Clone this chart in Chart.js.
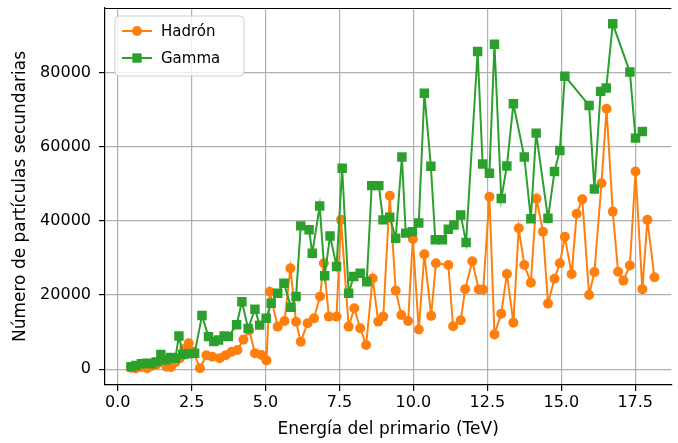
<!DOCTYPE html>
<html>
<head>
<meta charset="utf-8">
<script src="https://cdn.jsdelivr.net/npm/chart.js@4.4.1/dist/chart.umd.min.js"></script>
<style>
  html, body { margin: 0; padding: 0; background: #fff; overflow: hidden; }
</style>
</head>
<body>
<canvas id="chart1" width="678" height="443"></canvas>
<script>

// energia del primario (TeV) y numero de particulas
var hadronE = [0.45, 0.6, 0.8, 1.0, 1.15, 1.3, 1.5, 1.65, 1.8, 1.95,
  2.1, 2.25, 2.4, 2.55, 2.78, 3.0, 3.2, 3.45, 3.65, 3.85,
  4.05, 4.25, 4.45, 4.64, 4.86, 5.03, 5.14, 5.41, 5.64, 5.84,
  6.03, 6.19, 6.42, 6.64, 6.84, 6.97, 7.14, 7.4, 7.55, 7.81,
  8.0, 8.2, 8.4, 8.62, 8.81, 8.98, 9.2, 9.4, 9.59, 9.82,
  9.98, 10.18, 10.37, 10.6, 10.76, 11.18, 11.34, 11.6, 11.75, 11.99,
  12.21, 12.36, 12.57, 12.74, 12.97, 13.16, 13.38, 13.56, 13.75, 13.97,
  14.16, 14.38, 14.55, 14.77, 14.95, 15.12, 15.35, 15.52, 15.71, 15.94,
  16.12, 16.36, 16.53, 16.74, 16.92, 17.1, 17.32, 17.51, 17.74, 17.91, 18.15];
var hadronN = [400, 200, 600, 300, 900, 1200, 2000, 700, 600, 1900,
  3000, 5500, 7000, 4800, 300, 3800, 3400, 3000, 3800, 4750,
  5200, 8000, 10500, 4300, 3860, 2400, 20900, 11500, 13000, 27200,
  12800, 7450, 12400, 13750, 19600, 28600, 14200, 14200, 40270, 11500,
  16450, 11050, 6550, 24500, 12850, 14200, 46800, 21200, 14650, 13000,
  35100, 10700, 31000, 14400, 28600, 28100, 11600, 13200, 21600, 29100,
  21500, 21500, 46500, 9400, 15000, 25700, 12570, 38000, 28100, 23350,
  46000, 37100, 17700, 24400, 28600, 35700, 25700, 41900, 45850, 20040,
  26200, 50160, 70200, 42500, 26300, 23900, 28000, 53300, 21600, 40270, 24800];

var gammaE = [0.45, 0.62, 0.8, 0.98, 1.15, 1.3, 1.46, 1.62, 1.79, 1.95,
  2.07, 2.2, 2.4, 2.6, 2.85, 3.07, 3.25, 3.41, 3.6, 3.74,
  4.02, 4.2, 4.41, 4.64, 4.8, 5.02, 5.19, 5.41, 5.62, 5.86,
  6.03, 6.19, 6.47, 6.58, 6.83, 7.0, 7.18, 7.4, 7.59, 7.81,
  7.98, 8.2, 8.42, 8.59, 8.83, 8.97, 9.2, 9.4, 9.61, 9.74,
  9.96, 10.18, 10.37, 10.59, 10.74, 10.98, 11.18, 11.37, 11.6, 11.78,
  12.17, 12.34, 12.57, 12.74, 12.97, 13.16, 13.38, 13.75, 13.97, 14.15,
  14.55, 14.77, 14.95, 15.12, 15.94, 16.12, 16.33, 16.52, 16.74, 17.32,
  17.51, 17.74];
var gammaN = [700, 1000, 1500, 1600, 1500, 2000, 4000, 2500, 3200, 3000,
  9000, 4000, 4200, 4300, 14500, 8800, 7500, 7900, 9000, 8800,
  12000, 18200, 11000, 16200, 11900, 13750, 17800, 20500, 23200, 16700,
  19600, 38650, 37600, 31300, 44000, 25200, 35950, 27700, 54200, 20500,
  25000, 25900, 23600, 49500, 49500, 40270, 41000, 35300, 57200, 36700,
  37100, 39400, 74400, 54700, 34900, 34900, 37750, 38900, 41600, 34150,
  85650, 55300, 52850, 87600, 46000, 54800, 71550, 57200, 40600, 63650,
  40700, 53300, 58950, 79000, 71100, 48600, 74900, 75800, 93100, 80100,
  62300, 64100];

var xTicks = [0, 2.5, 5, 7.5, 10, 12.5, 15, 17.5];
var yTicks = [0, 20000, 40000, 60000, 80000];

var naranja = '#ff7f0e';
var verde = '#2ca02c';
var fuente = 'DejaVu Sans';


function puntos(xs, ys) {
  var arr = new Array;
  for (let i = 0; i < xs.length; i++) {
    arr.push({x: xs[i], y: ys[i]});
  }
  return arr;
}


// leyenda al estilo matplotlib, dentro del area del grafico
const leyenda = {
  id: 'leyenda',
  afterDraw(chart) {
    const ctx = chart.ctx;
    const a = chart.chartArea;

    // borde superior
    ctx.save();
    ctx.strokeStyle = '#000';
    ctx.lineWidth = 1.2;
    ctx.beginPath();
    ctx.moveTo(a.left, a.top + 0.5);
    ctx.lineTo(a.right, a.top + 0.5);
    ctx.stroke();

    const bx = 115, by = 16, bw = 129, bh = 60, r = 4;
    ctx.fillStyle = 'rgba(255,255,255,0.8)';
    ctx.strokeStyle = '#d0d0d0';
    ctx.lineWidth = 1;
    ctx.beginPath();
    ctx.moveTo(bx + r, by);
    ctx.arcTo(bx + bw, by, bx + bw, by + bh, r);
    ctx.arcTo(bx + bw, by + bh, bx, by + bh, r);
    ctx.arcTo(bx, by + bh, bx, by, r);
    ctx.arcTo(bx, by, bx + bw, by, r);
    ctx.closePath();
    ctx.fill();
    ctx.stroke();

    chart.data.datasets.forEach(function(ds, i) {
      const y = 31 + i * 27;
      ctx.strokeStyle = ds.borderColor;
      ctx.fillStyle = ds.borderColor;
      ctx.lineWidth = 2;
      ctx.beginPath();
      ctx.moveTo(122, y);
      ctx.lineTo(152, y);
      ctx.stroke();
      ctx.beginPath();
      if (ds.pointStyle == 'rect') {
        ctx.rect(137 - 4.7, y - 4.7, 9.4, 9.4);
      } else {
        ctx.arc(137, y, 5, 0, Math.PI * 2);
      }
      ctx.fill();

      ctx.fillStyle = '#000';
      ctx.font = '15px "' + fuente + '"';
      ctx.textBaseline = 'middle';
      ctx.textAlign = 'left';
      ctx.fillText(ds.label, 161, y + 1);
    });
    ctx.restore();
  }
};


const ctx1 = document.getElementById('chart1').getContext('2d');
const chart1 = new Chart(ctx1, {
  type: 'scatter',
  data: {
    datasets: [
      {
        label: 'Hadrón',
        data: puntos(hadronE, hadronN),
        showLine: true,
        borderColor: naranja,
        backgroundColor: naranja,
        borderWidth: 2,
        pointStyle: 'circle',
        pointRadius: 5,
        pointBorderWidth: 0,
        pointHoverRadius: 5,
        order: 1
      },
      {
        label: 'Gamma',
        data: puntos(gammaE, gammaN),
        showLine: true,
        borderColor: verde,
        backgroundColor: verde,
        borderWidth: 2,
        pointStyle: 'rect',
        pointRadius: 6.7,
        pointBorderWidth: 0,
        pointHoverRadius: 6.7,
        order: 0
      }
    ]
  },
  options: {
    responsive: false,
    animation: false,
    devicePixelRatio: 1,
    layout: {
      padding: {top: 8, right: 0, bottom: 0, left: 0}
    },
    plugins: {
      legend: {display: false},
      tooltip: {enabled: false}
    },
    scales: {
      x: {
        type: 'linear',
        min: -0.43,
        max: 18.72,
        afterBuildTicks: function(s) {
          s.ticks = xTicks.map(function(v) { return {value: v}; });
        },
        afterFit: function(s) {
          s.height = 58;
          s.paddingLeft = 0; s.paddingRight = 0;
          s.paddingTop = 0; s.paddingBottom = 0;
        },
        ticks: {
          callback: function(v) { return v.toFixed(1); },
          font: {family: fuente, size: 16},
          color: '#000',
          padding: 2,
          maxRotation: 0
        },
        grid: {
          color: '#b0b0b0',
          lineWidth: 1.2,
          tickColor: '#000',
          tickLength: 6
        },
        border: {color: '#000', width: 1.2},
        title: {
          display: true,
          text: 'Energía del primario (TeV)',
          font: {family: fuente, size: 17},
          color: '#000',
          padding: {top: 0, bottom: 3}
        }
      },
      y: {
        type: 'linear',
        min: -4235,
        max: 97370,
        afterBuildTicks: function(s) {
          s.ticks = yTicks.map(function(v) { return {value: v}; });
        },
        afterFit: function(s) {
          s.width = 105;
          s.paddingLeft = 0; s.paddingRight = 0;
          s.paddingTop = 0; s.paddingBottom = 0;
        },
        ticks: {
          callback: function(v) { return String(v); },
          font: {family: fuente, size: 16},
          color: '#000',
          padding: 8
        },
        grid: {
          color: '#b0b0b0',
          lineWidth: 1.2,
          tickColor: '#000',
          tickLength: 6
        },
        border: {color: '#000', width: 1.2},
        title: {
          display: true,
          text: 'Número de partículas secundarias',
          font: {family: fuente, size: 17},
          color: '#000',
          padding: {top: 10, bottom: 0}
        }
      }
    }
  },
  plugins: [leyenda]
});

</script>
</body>
</html>
